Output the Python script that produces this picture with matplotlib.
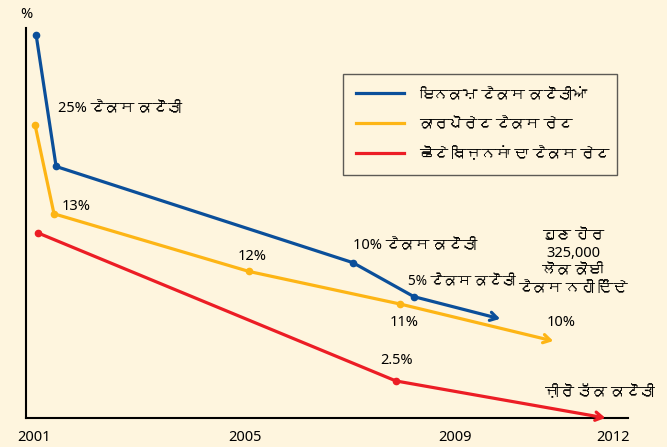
import matplotlib
matplotlib.use("Agg")
import matplotlib.pyplot as plt
from matplotlib import font_manager
from matplotlib.ft2font import FT2Font
from matplotlib.lines import Line2D

# ---- data ----
blue_years = [2001.04, 2001.42, 2007.06, 2008.22, 2009.86]
blue_vals = [25.9, 17.0, 10.5, 8.2, 6.7]
yellow_years = [2001.02, 2001.38, 2005.09, 2007.96, 2010.87]
yellow_vals = [19.8, 13.8, 9.9, 7.7, 5.2]
red_years = [2001.08, 2007.88, 2011.86]
red_vals = [12.5, 2.5, 0.0]
tick_years = [2001, 2005, 2009, 2012]
tick_labels = ["2001", "2005", "2009", "2012"]
series_names = ["ਇਨਕਮ ਟੈਕਸ ਕਟੌਤੀਆਂ", "ਕਾਰਪੋਰੇਟ ਟੈਕਸ ਰੇਟ", "ਛੋਟੇ ਬਿਜ਼ਨਸਾਂ ਦਾ ਟੈਕਸ ਰੇਟ"]

# ---- find a font covering Gurmukhi ----
gur = []
for f in font_manager.fontManager.ttflist:
    try:
        cm = FT2Font(f.fname).get_charmap()
        if 0x0A1F in cm and f.name not in gur:
            gur.append(f.name)
    except Exception:
        pass
plt.rcParams['font.family'] = ['Noto Sans'] + gur + ['DejaVu Sans']

BG = '#FEF5DE'
BLUE = '#0B4F9A'
YEL = '#FDB515'
RED = '#EC1D25'

fig = plt.figure(figsize=(6.67, 4.47), dpi=100, facecolor=BG)
ax = fig.add_axes([0.039, 0.065, 0.9025, 0.872])
ax.set_facecolor(BG)
ax.set_xlim(2000.848, 2012.29)
ax.set_ylim(0, 26.35)
for s in ['top', 'right']:
    ax.spines[s].set_visible(False)
for s in ['left', 'bottom']:
    ax.spines[s].set_linewidth(1.5)
    ax.spines[s].set_color('black')
ax.set_yticks([])
ax.set_xticks(tick_years)
ax.set_xticklabels(tick_labels, fontsize=10.5)
ax.tick_params(axis='x', length=0, pad=9)

def series(xs, ys, col):
    ax.plot(xs[:-1], ys[:-1], color=col, lw=2.3, marker='o', ms=4.5,
            solid_capstyle='round', clip_on=False, zorder=3)
    ax.annotate('', xy=(xs[-1], ys[-1]), xytext=(xs[-2], ys[-2]),
                arrowprops=dict(arrowstyle='->,head_length=0.5,head_width=0.3',
                                color=col, lw=2.3, shrinkA=0, shrinkB=0),
                annotation_clip=False, zorder=3)

series(blue_years, blue_vals, BLUE)
series(yellow_years, yellow_vals, YEL)
series(red_years, red_vals, RED)

handles = [Line2D([], [], color=c, lw=2.3) for c in (BLUE, YEL, RED)]
leg = ax.legend(handles, series_names, loc='center',
                bbox_to_anchor=(0.5266, 0.623, 0.455, 0.259),
                mode='expand', frameon=True, fancybox=False, fontsize=10.5,
                handlelength=3.3, handletextpad=1.0, labelspacing=1.0,
                borderpad=0.9, borderaxespad=0)
leg.get_frame().set_facecolor(BG)
leg.get_frame().set_edgecolor('#333333')
leg.get_frame().set_linewidth(1.0)

fs = 10.5
def px(x, y):
    return (x / 667, 1 - y / 447)

fig.text(*px(20, 15), '%', fontsize=fs, va='center')
fig.text(*px(58, 108), '25% ਟੈਕਸ ਕਟੌਤੀ', fontsize=fs, va='center')
fig.text(*px(62, 206), '13%', fontsize=fs, va='center')
fig.text(*px(238, 256), '12%', fontsize=fs, va='center')
fig.text(*px(353, 245), '10% ਟੈਕਸ ਕਟੌਤੀ', fontsize=fs, va='center')
fig.text(*px(408, 282), '5% ਟੈਕਸ ਕਟੌਤੀ', fontsize=9.8, va='center')
fig.text(*px(390, 323), '11%', fontsize=fs, va='center')
fig.text(*px(547, 323), '10%', fontsize=fs, va='center')
fig.text(*px(380, 360), '2.5%', fontsize=fs, va='center')
fig.text(*px(655, 393), 'ਜ਼ੀਰੋ ਤੱਕ ਕਟੌਤੀ', fontsize=fs, va='center', ha='right')
fig.text(*px(573, 262), 'ਹੁਣ ਹੋਰ\n325,000\nਲੋਕ ਕੋਈ\nਟੈਕਸ ਨਹੀਂ ਦਿੰਦੇ', fontsize=fs,
         va='center', ha='center', linespacing=1.25)

fig.savefig('out.png', dpi=100, facecolor=BG)
